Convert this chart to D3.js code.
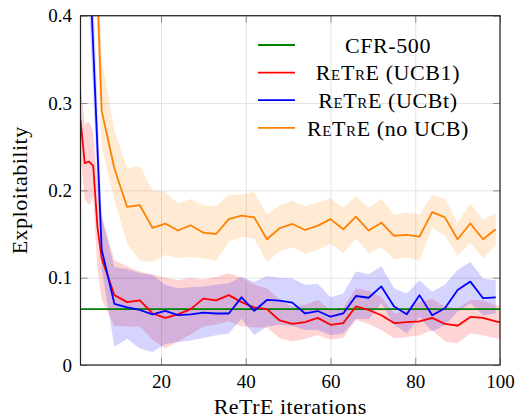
<!DOCTYPE html>
<html>
<head>
<meta charset="utf-8">
<script src="https://cdn.jsdelivr.net/npm/d3@7"></script>
<style>
  body { margin: 0; background: #fff; }
</style>
</head>
<body>
<div id="chart"></div>
<script>
const CFR_VALUE = 0.064;

const redX = [1, 2, 3, 4, 5, 6, 9, 12, 15, 18, 21, 24, 27, 30, 33, 36, 39, 42, 45, 48, 51, 54, 57, 60, 63, 66, 69, 72, 75, 78, 81, 84, 87, 90, 93, 96, 99, 100];
const redY = [0.281, 0.231, 0.233, 0.228, 0.158, 0.122, 0.080, 0.072, 0.074, 0.059, 0.054, 0.058, 0.064, 0.076, 0.074, 0.080, 0.072, 0.066, 0.064, 0.051, 0.047, 0.049, 0.054, 0.046, 0.048, 0.067, 0.063, 0.057, 0.048, 0.049, 0.050, 0.054, 0.047, 0.045, 0.055, 0.054, 0.050, 0.049];
const redHi = [0.323, 0.275, 0.279, 0.266, 0.21, 0.17, 0.12, 0.113, 0.107, 0.104, 0.100, 0.097, 0.100, 0.098, 0.101, 0.105, 0.100, 0.092, 0.088, 0.0745, 0.067, 0.069, 0.0745, 0.063, 0.065, 0.088, 0.085, 0.078, 0.059, 0.063, 0.0725, 0.076, 0.067, 0.065, 0.0745, 0.074, 0.069, 0.068];
const redLo = [0.24, 0.19, 0.183, 0.193, 0.11, 0.075, 0.045, 0.044, 0.044, 0.029, 0.019, 0.027, 0.035, 0.044, 0.046, 0.050, 0.044, 0.043, 0.043, 0.0305, 0.027, 0.030, 0.034, 0.029, 0.031, 0.0515, 0.047, 0.040, 0.0305, 0.032, 0.034, 0.040, 0.027, 0.025, 0.036, 0.034, 0.0305, 0.030];

const sharedX = [3, 6, 9, 12, 15, 18, 21, 24, 27, 30, 33, 36, 39, 42, 45, 48, 51, 54, 57, 60, 63, 66, 69, 72, 75, 78, 81, 84, 87, 90, 93, 96, 99];

const blueY = [0.48, 0.132, 0.070, 0.066, 0.063, 0.058, 0.062, 0.057, 0.058, 0.060, 0.059, 0.059, 0.0775, 0.062, 0.0745, 0.0737, 0.0714, 0.059, 0.0618, 0.0553, 0.059, 0.079, 0.077, 0.090, 0.067, 0.058, 0.080, 0.057, 0.065, 0.086, 0.0955, 0.0765, 0.0775];
const blueHi = [0.55, 0.17, 0.112, 0.11, 0.105, 0.103, 0.092, 0.088, 0.089, 0.090, 0.092, 0.094, 0.101, 0.095, 0.102, 0.100, 0.099, 0.092, 0.093, 0.0775, 0.082, 0.107, 0.104, 0.113, 0.088, 0.082, 0.097, 0.084, 0.092, 0.109, 0.118, 0.099, 0.097];
const blueLo = [0.41, 0.11, 0.021, 0.030, 0.019, 0.015, 0.024, 0.026, 0.028, 0.031, 0.034, 0.036, 0.053, 0.034, 0.044, 0.046, 0.045, 0.040, 0.040, 0.034, 0.036, 0.053, 0.052, 0.0707, 0.046, 0.036, 0.055, 0.038, 0.046, 0.061, 0.0707, 0.057, 0.059];

const orangeY = [0.70, 0.291, 0.225, 0.181, 0.183, 0.157, 0.162, 0.154, 0.160, 0.1515, 0.150, 0.167, 0.171, 0.169, 0.144, 0.1566, 0.1615, 0.1546, 0.1596, 0.167, 0.1554, 0.170, 0.154, 0.163, 0.148, 0.149, 0.147, 0.175, 0.169, 0.144, 0.162, 0.144, 0.1554];
const orangeHi = [0.78, 0.35, 0.269, 0.225, 0.228, 0.20, 0.198, 0.185, 0.19, 0.183, 0.182, 0.195, 0.195, 0.198, 0.172, 0.183, 0.188, 0.182, 0.186, 0.191, 0.18, 0.193, 0.18, 0.19, 0.172, 0.175, 0.172, 0.195, 0.19, 0.163, 0.185, 0.166, 0.174];
const orangeLo = [0.62, 0.25, 0.189, 0.139, 0.120, 0.118, 0.126, 0.122, 0.124, 0.122, 0.119, 0.141, 0.147, 0.145, 0.118, 0.130, 0.135, 0.127, 0.132, 0.139, 0.128, 0.145, 0.128, 0.135, 0.121, 0.123, 0.12, 0.157, 0.148, 0.125, 0.14, 0.122, 0.137];

const xTicks = [20, 40, 60, 80, 100];
const yTicks = [0, 0.1, 0.2, 0.3, 0.4];
const legendNames = ["CFR-500", "(UCB1)", "(UCBt)", "(no UCB)"];
const legendColors = ["#008000", "#ff0000", "#0000ff", "#ff8000"];

// a single family name: font lists fall back to sans here
const FONT = "Liberation Serif";

const width = 517, height = 419;
const margin = { top: 15.7, right: 17, bottom: 54, left: 80.5 };
const innerW = width - margin.left - margin.right;
const innerH = height - margin.top - margin.bottom;

const svg = d3.select("#chart").append("svg")
    .attr("width", width)
    .attr("height", height);

const g = svg.append("g")
    .attr("transform", `translate(${margin.left},${margin.top})`);

const x = d3.scaleLinear().domain([1, 100]).range([0, innerW]);
const y = d3.scaleLinear().domain([0, 0.4]).range([innerH, 0]);

// grid
g.append("g")
    .attr("transform", `translate(0,${innerH})`)
    .call(d3.axisBottom(x).tickValues(xTicks).tickSize(-innerH).tickFormat(""))
    .call(s => s.select(".domain").remove())
    .call(s => s.selectAll("line").attr("stroke", "#e3e3e3").attr("stroke-width", 1));
g.append("g")
    .call(d3.axisLeft(y).tickValues(yTicks).tickSize(-innerW).tickFormat(""))
    .call(s => s.select(".domain").remove())
    .call(s => s.selectAll("line").attr("stroke", "#e3e3e3").attr("stroke-width", 1));

g.append("clipPath").attr("id", "plot-clip")
    .append("rect").attr("width", innerW).attr("height", innerH);

const plot = g.append("g").attr("clip-path", "url(#plot-clip)");

const series = [
    { xs: redX, ys: redY, hi: redHi, lo: redLo, color: "#ff0000" },
    { xs: sharedX, ys: blueY, hi: blueHi, lo: blueLo, color: "#0000ff" },
    { xs: sharedX, ys: orangeY, hi: orangeHi, lo: orangeLo, color: "#ff8000" }
];

const band = d3.area()
    .x(d => x(d.x))
    .y0(d => y(d.lo))
    .y1(d => y(d.hi));

const line = d3.line()
    .x(d => x(d.x))
    .y(d => y(d.y));

series.forEach(s => {
    const pts = s.xs.map((xv, i) => ({ x: xv, y: s.ys[i], hi: s.hi[i], lo: s.lo[i] }));
    s.pts = pts;
    plot.append("path")
        .attr("d", band(pts))
        .attr("fill", s.color)
        .attr("fill-opacity", 0.17)
        .attr("stroke", "none");
});

// CFR-500 reference
plot.append("line")
    .attr("x1", 0).attr("x2", innerW)
    .attr("y1", y(CFR_VALUE)).attr("y2", y(CFR_VALUE))
    .attr("stroke", "#008000").attr("stroke-width", 1.8);

series.forEach(s => {
    plot.append("path")
        .attr("d", line(s.pts))
        .attr("fill", "none")
        .attr("stroke", s.color)
        .attr("stroke-width", 1.8)
        .attr("stroke-linejoin", "round");
});

// axes with inward ticks
const tickLen = 7;
const fmtY = d => d === 0 ? "0" : d3.format(".1f")(d);

const xAxis = g.append("g")
    .attr("transform", `translate(0,${innerH})`)
    .call(d3.axisBottom(x).tickValues(xTicks).tickSizeInner(-tickLen).tickSizeOuter(0).tickPadding(9.5));
const xTop = g.append("g")
    .call(d3.axisTop(x).tickValues(xTicks).tickSizeInner(-tickLen).tickSizeOuter(0).tickFormat(""));
const yAxis = g.append("g")
    .call(d3.axisLeft(y).tickValues(yTicks).tickSizeInner(-tickLen).tickSizeOuter(0).tickPadding(8.5).tickFormat(fmtY));
const yRight = g.append("g")
    .attr("transform", `translate(${innerW},0)`)
    .call(d3.axisRight(y).tickValues(yTicks).tickSizeInner(-tickLen).tickSizeOuter(0).tickFormat(""));

[xAxis, xTop, yAxis, yRight].forEach(a => {
    a.select(".domain").remove();
    a.selectAll(".tick line").attr("stroke", "#8c8c8c").attr("stroke-width", 1);
    a.selectAll("text").style("font-family", FONT).style("font-size", "19px");
});

// frame
g.append("rect")
    .attr("width", innerW).attr("height", innerH)
    .attr("fill", "none")
    .attr("stroke", "#222").attr("stroke-width", 1.2);

// axis titles
svg.append("text")
    .attr("x", margin.left + innerW / 2)
    .attr("y", 414)
    .attr("text-anchor", "middle")
    .style("font-family", FONT)
    .style("font-size", "22px")
    .style("letter-spacing", "0.5px")
    .text("ReTrE iterations");

svg.append("text")
    .attr("transform", `translate(27,${margin.top + innerH / 2}) rotate(-90)`)
    .attr("text-anchor", "middle")
    .style("font-family", FONT)
    .style("font-size", "22px")
    .style("letter-spacing", "0.5px")
    .text("Exploitability");

// legend
const legend = svg.append("g");
const legendY0 = 45, legendStep = 27.6;
legendNames.forEach((name, i) => {
    const ly = legendY0 + i * legendStep;
    legend.append("line")
        .attr("x1", 258).attr("x2", 295)
        .attr("y1", ly).attr("y2", ly)
        .attr("stroke", legendColors[i]).attr("stroke-width", 1.8);
    const t = legend.append("text")
        .attr("x", 388).attr("y", ly)
        .attr("dy", "0.35em")
        .attr("text-anchor", "middle")
        .style("font-family", FONT)
        .style("font-size", "22px")
        .style("letter-spacing", "0.6px");
    if (i === 0) {
        t.text(name);
    } else {
        t.append("tspan").style("font-variant", "small-caps").text("ReTrE");
        t.append("tspan").text(" " + name);
    }
});
</script>
</body>
</html>
